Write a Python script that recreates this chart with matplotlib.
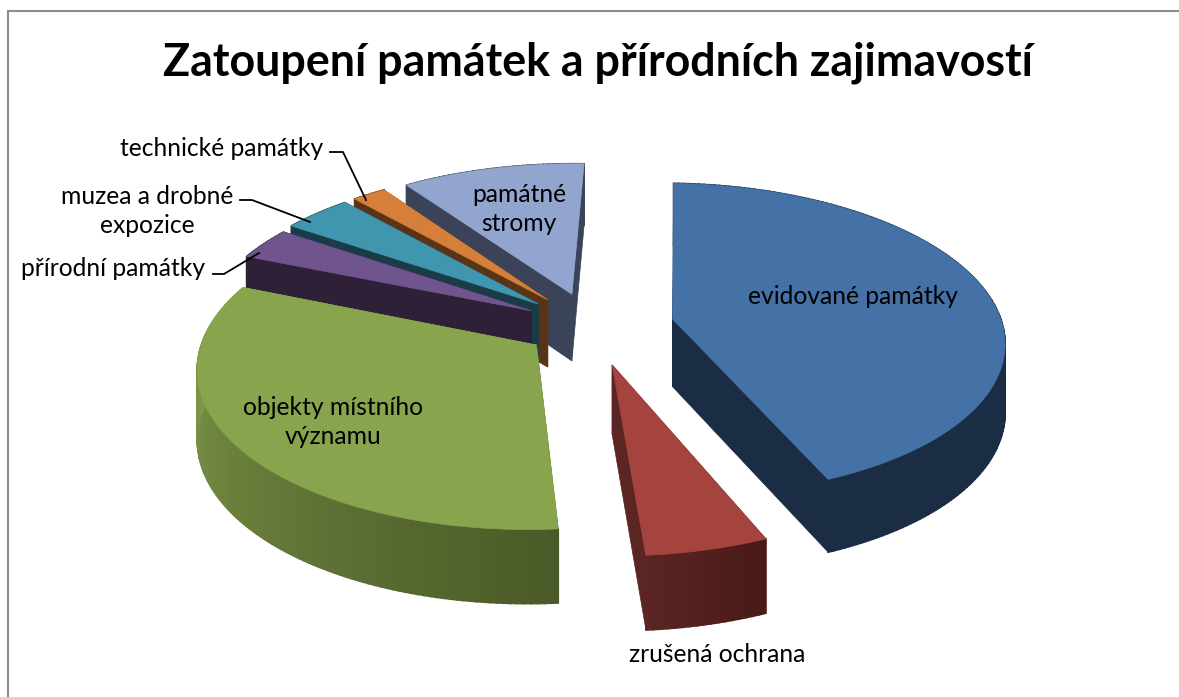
"""3D exploded pie, drawn by hand: matplotlib has no perspective pie."""
import numpy as np
import matplotlib; matplotlib.use("Agg")
import matplotlib.pyplot as plt
from matplotlib.patches import Polygon

plt.rcParams["font.family"] = ["Lato", "DejaVu Sans"]

TITLE = "Zatoupení památek a přírodních zajimavostí"
names = ["evidované památky", "zrušená ochrana", "objekty místního významu",
         "přírodní památky", "muzea a drobné expozice", "technické památky", "památné stromy"]
values = [43.1, 5.1, 32.4, 3.3, 3.9, 1.9, 10.3]
explode = [0.25, 0.25, 0.205, 0.21, 0.22, 0.22, 0.22]
tops = ["#4471A6", "#A5443F", "#88A44C", "#70548E", "#4096AE", "#D57F3A", "#91A5CF"]
walls_a = ["#1A2D45", "#481A18", "#4A5A28", "#2E2137", "#1A3C48", "#5A3416", "#3A4358"]   # at slice start
walls_b = ["#1A2D45", "#5A2522", "#8AA34F", "#2E2137", "#1A3C48", "#5A3416", "#3A4358"]   # at slice end
draw_order = [6, 5, 4, 3, 2, 0, 1]

W, H = 1179, 697
CX, CY, R, SQUASH, PERSP = 592, 326, 330, 0.47, 0.13
DEPTH, START = 68, 2

def project(x, y):
    """unit-disc coords (y = away from viewer) -> pixels"""
    s = 1 / (1 + PERSP * y)
    return CX + R * x * s, CY - R * SQUASH * y * s

def drop(y):
    return DEPTH * (1 - 0.08 * y)

def mix(c1, c2, t):
    a, b = matplotlib.colors.to_rgb(c1), matplotlib.colors.to_rgb(c2)
    return tuple(a[i] + (b[i] - a[i]) * t for i in range(3))

fig = plt.figure(figsize=(W / 100, H / 100), dpi=100)
ax = fig.add_axes([0, 0, 1, 1])
ax.set_xlim(0, W); ax.set_ylim(H, 0); ax.axis("off")

edges = np.cumsum([0] + values) / sum(values) * 360 + START
for i in draw_order:
    a0, a1 = np.radians(edges[i]), np.radians(edges[i + 1])
    mid = (a0 + a1) / 2
    ox, oy = explode[i] * np.sin(mid), explode[i] * np.cos(mid)
    ts = np.linspace(a0, a1, max(int(np.degrees(a1 - a0)), 4))
    ux, uy = ox + np.sin(ts), oy + np.cos(ts)
    px, py = project(ux, uy)
    qx, qy = project(ox, oy)
    dr = drop(uy); dq = drop(oy)
    # radial walls, back one first
    quads = [([qx, px[0], px[0], qx], [qy, py[0], py[0] + dr[0], qy + dq], walls_a[i]),
             ([qx, px[-1], px[-1], qx], [qy, py[-1], py[-1] + dr[-1], qy + dq], walls_b[i])]
    quads.sort(key=lambda q: max(q[1]))
    for xs, ys, c in quads:
        ax.add_patch(Polygon(np.c_[xs, ys], fc=c, ec=c, lw=0.5))
    # rim wall in short strips so the shading can run along it
    for j in range(len(ts) - 1):
        c = mix(walls_a[i], walls_b[i], j / (len(ts) - 2))
        xs = [px[j], px[j + 1], px[j + 1], px[j]]
        ys = [py[j], py[j + 1], py[j + 1] + dr[j + 1], py[j] + dr[j]]
        ax.add_patch(Polygon(np.c_[xs, ys], fc=c, ec=c, lw=1.2))
    ax.add_patch(Polygon(np.c_[np.r_[qx, px], np.r_[qy, py]], fc=tops[i], ec=tops[i], lw=0.5))

# frame runs off the right and bottom of the crop
ax.plot([7.5, 7.5, W], [H, 10.5, 10.5], color="#8C8C8C", lw=1.5, solid_joinstyle="miter")

ax.text(598, 63, TITLE, ha="center", va="center", fontsize=32.2, fontweight="bold", color="black")
fs = 17.7
ax.text(853, 297, "evidované památky", ha="center", va="center", fontsize=fs)
ax.text(717, 654, "zrušená ochrana", ha="center", va="center", fontsize=fs)
ax.text(333, 422, "objekty místního\nvýznamu", ha="center", va="center", fontsize=fs, linespacing=1.3)
ax.text(519, 209, "památné\nstromy", ha="center", va="center", fontsize=fs, linespacing=1.3)
ax.text(205, 269, "přírodní památky", ha="right", va="center", fontsize=fs)
ax.text(147, 211, "muzea a drobné\nexpozice", ha="center", va="center", fontsize=fs, linespacing=1.3)
ax.text(323, 149, "technické památky", ha="right", va="center", fontsize=fs)

for xs, ys in [([213, 224, 259], [274, 274, 253]),
               ([240, 252, 310], [200, 200, 222]),
               ([330, 343, 366], [152, 152, 200])]:
    ax.plot(xs, ys, color="black", lw=1.3)

fig.savefig("out.png", dpi=100)
